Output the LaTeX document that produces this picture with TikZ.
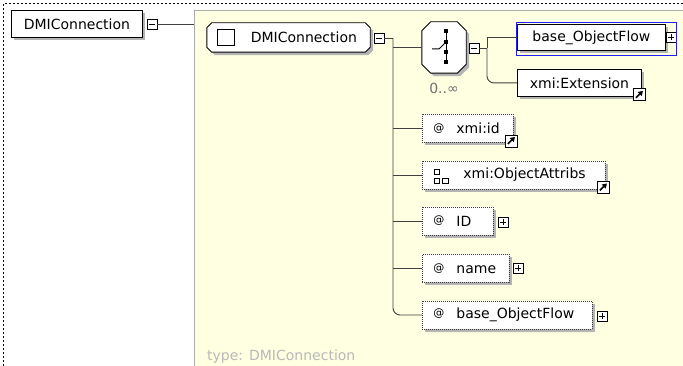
\documentclass[tikz,border=0pt]{standalone}
\usepackage{fontspec}
\setmainfont{DejaVu Sans}
\usetikzlibrary{shadows,arrows.meta,backgrounds}

\definecolor{panel}{RGB}{255,255,225}
\definecolor{panelline}{RGB}{170,170,170}
\definecolor{wirec}{RGB}{64,64,64}
\definecolor{shade}{RGB}{180,180,180}
\definecolor{faint}{RGB}{185,185,185}
\definecolor{countgray}{RGB}{110,110,110}
\definecolor{selblue}{RGB}{30,30,255}

\newcommand\attsym{\raisebox{2.5pt}{\fontsize{11}{11}\selectfont @}\hspace{12pt}}

\tikzset{
  txt/.style={font=\fontsize{14}{16}\selectfont},
  shadowed/.style={drop shadow={shadow xshift=3pt, shadow yshift=-3pt, fill=shade, opacity=1}},
  elembox/.style={txt, draw=black, fill=white, line width=0.9pt, shadowed, inner sep=0pt, anchor=north west},
  attrbox/.style={elembox, draw=black!75, dash pattern=on 1pt off 1pt, align=left, inner xsep=11pt},
  wire/.style={draw=wirec, line width=0.9pt},
  iconbox/.style={draw=black, fill=white, line width=0.8pt, minimum size=10pt, inner sep=0pt},
  minusbox/.style={iconbox, path picture={\draw[line width=0.9pt]
      ([xshift=2pt]path picture bounding box.west) -- ([xshift=-2pt]path picture bounding box.east);}},
  plusbox/.style={iconbox, path picture={\draw[line width=0.9pt]
      ([xshift=2pt]path picture bounding box.west) -- ([xshift=-2pt]path picture bounding box.east)
      ([yshift=-2pt]path picture bounding box.north) -- ([yshift=2pt]path picture bounding box.south);}},
  linkbox/.style={iconbox, minimum size=12pt, path picture={\draw[line width=1.6pt, -{Triangle[length=4.5pt,width=5.5pt]}]
      ([shift={(3pt,3pt)}]path picture bounding box.south west) -- ([shift={(-2pt,-2pt)}]path picture bounding box.north east);}},
}

% octagonal outline with a drop shadow around a named node
\newcommand\octagonframe[2]{%
  \draw[black, line width=0.9pt, fill=white, shadowed]
    ([xshift=#2]#1.north west) -- ([xshift=-#2]#1.north east) -- ([yshift=-#2]#1.north east)
    -- ([yshift=#2]#1.south east) -- ([xshift=-#2]#1.south east) -- ([xshift=#2]#1.south west)
    -- ([yshift=#2]#1.south west) -- ([yshift=-#2]#1.north west) -- cycle;}

\begin{document}
\begin{tikzpicture}[x=1pt,y=-1pt]
\useasboundingbox (0,0) rectangle (683,366);

% root element
\node[elembox, minimum width=131pt, minimum height=27pt] (root) at (11,10) {DMIConnection};
\node[minusbox] (m0) at (152,24) {};
\coordinate (rootpin) at (194,24);
\draw[wire] (m0.east) -- (rootpin);

% complex type
\node[txt, minimum height=29pt, text width=137pt, inner xsep=13pt, inner ysep=0pt, align=right] (ct) at (288.5,37.5) {DMIConnection};
\node[minusbox] (m1) at (379,38) {};

% sequence compositor
\node[minimum width=44pt, minimum height=51pt, inner sep=0pt] (seq) at (444,47.5) {};
\node[txt, text=countgray] (card) at (444,88) {0..∞};
\node[minusbox] (m2) at (474,48.5) {};

% child elements
\node[elembox, minimum width=148pt, minimum height=26pt] (e1) at (517,24) {base\_ObjectFlow};
\node[plusbox] (p1) at (671,37) {};
\node[elembox, minimum width=124pt, minimum height=27pt] (e2) at (517,69) {xmi:Extension};
\node[linkbox] (l2) at ([xshift=-3pt,yshift=2pt]e2.south east) {};

% attributes
\node[attrbox, anchor=west, text width=69pt, minimum height=28pt] (a1) at (422,128.5) {\attsym xmi:id};
\node[linkbox] (l1) at ([xshift=-3pt,yshift=2pt]a1.south east) {};
\node[attrbox, anchor=west, text width=161pt, minimum height=28pt] (a2) at (422,175) {\hspace*{30pt}xmi:ObjectAttribs};
\node[linkbox] (l3) at ([xshift=-3pt,yshift=2pt]a2.south east) {};
\node[attrbox, anchor=west, text width=49pt, minimum height=28pt] (a3) at (422,221) {\attsym ID};
\node[plusbox] (p3) at (503,222) {};
\node[attrbox, anchor=west, text width=65pt, minimum height=28pt] (a4) at (422,268.5) {\attsym name};
\node[plusbox] (p4) at (518,268) {};
\node[attrbox, anchor=west, text width=148pt, minimum height=28pt] (a5) at (422,315) {\attsym base\_ObjectFlow};
\node[plusbox] (p5) at (602,316) {};

\node[txt, text=faint, anchor=west, inner sep=0pt] (typelbl) at (207,357) {type: DMIConnection};

% frames drawn beneath the nodes
\begin{pgfonlayer}{background}
  \draw[black, dash pattern=on 2pt off 2pt, line width=0.8pt] (3.5,366) -- (3.5,3.5) -- (683,3.5);
  \fill[panel] (194,10) rectangle (683,366);
  \draw[panelline, line width=1pt] (194.5,366) -- (194.5,10.5) -- (683,10.5);
  \octagonframe{ct}{5pt}
  \octagonframe{seq}{9pt}
\end{pgfonlayer}

% complex type icon
\draw[black, line width=0.9pt, fill=white] ([xshift=11pt,yshift=8pt]ct.west) rectangle ([xshift=28pt,yshift=-8pt]ct.west);

% sequence icon
\begin{scope}[shift={(seq.center)}]
  \draw[line width=1pt] (2,-16) -- (2,15);
  \foreach \yy in {-16,-5.5,5,15} \fill (0,\yy-2) rectangle (4,\yy+2);
  \draw[line width=1pt] (-12,1.5) -- (-5,1.5) -- (2,-5.5);
\end{scope}

% attribute group icon
\begin{scope}[shift={(a2.west)}]
  \draw[line width=0.8pt] (12,-6) rectangle (17.5,-0.5) (12,3) rectangle (17.5,8.5) (20.5,3) rectangle (26,8.5);
\end{scope}

% selection frame
\draw[selblue, line width=1pt] (516.5,22.5) rectangle (676.5,55.5);

% connectors of the complex type
\coordinate (trunk) at (393,38);
\draw[wire] (m1.east) -- (trunk);
\draw[wire, rounded corners=7pt] (trunk) -- (trunk |- a5.west) -- (a5.west);
\draw[wire] (trunk |- seq.west) -- (seq.west);
\draw[wire] (trunk |- a1.west) -- (a1.west);
\draw[wire] (trunk |- a2.west) -- (a2.west);
\draw[wire] (trunk |- a3.west) -- (a3.west);
\draw[wire] (trunk |- a4.west) -- (a4.west);

% connectors of the sequence
\coordinate (fork) at (487,48.5);
\draw[wire] (m2.east) -- (fork);
\draw[wire] (fork) -- (fork |- e1.west) -- (e1.west);
\draw[wire, rounded corners=7pt] (fork) -- (fork |- e2.west) -- (e2.west);
\end{tikzpicture}
\end{document}
